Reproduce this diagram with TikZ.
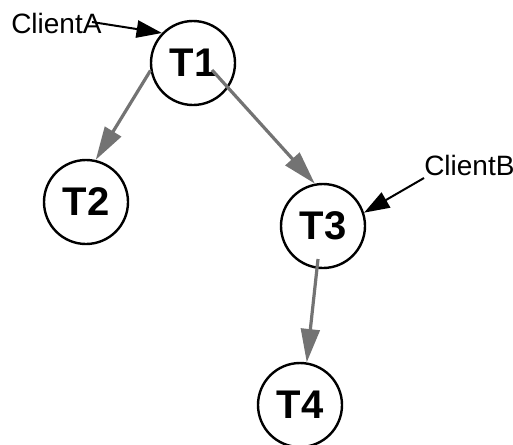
\documentclass[tikz,border=0pt]{standalone}
\usepackage{fontspec}
\setmainfont{Liberation Sans}
\usetikzlibrary{arrows.meta}
\begin{document}
\begin{tikzpicture}[x=0.75pt,y=-0.75pt,
  task/.style={circle,draw=black,line width=1.8pt,minimum size=63pt,inner sep=0pt,
    font=\fontsize{30}{33}\selectfont\bfseries},
  client/.style={inner sep=0pt,anchor=base west,font=\fontsize{21}{25}\selectfont},
  callarrow/.style={draw=black,line width=1.5pt,
    -{Triangle[length=19pt,width=13pt]}},
  forkarrow/.style={draw=black!55,line width=2.4pt,
    -{Triangle[length=25pt,width=14pt,fill=black!55]}}]
  \useasboundingbox (0,0) rectangle (513,444);

  % task nodes
  \node[task] (T1) at (193,63)  {\raisebox{-2pt}{T1}};
  \node[task] (T2) at (86,202)  {\raisebox{-4pt}{T2}};
  \node[task] (T3) at (323,226) {\raisebox{-4pt}{T3}};
  \node[task] (T4) at (300,405) {\raisebox{-3pt}{T4}};

  % clients
  \node[client] (CA) at (11,33)   {ClientA};
  \node[client] (CB) at (424,175) {ClientB};
  \coordinate (ca) at (92,22);
  \coordinate (cb) at (424,178);

  % calls from the clients
  \draw[callarrow] (ca) -- (T1.136);
  \draw[callarrow] (cb) -- (T3.18);

  % fork links between tasks
  \coordinate (t1in) at (212,70);
  \coordinate (t3out) at (318,259);
  \draw[forkarrow] (T1.190) -- (T2.77);
  \draw[forkarrow] (t1in) -- (T3.101);
  \draw[forkarrow] (t3out) -- (T4.81);
\end{tikzpicture}
\end{document}
